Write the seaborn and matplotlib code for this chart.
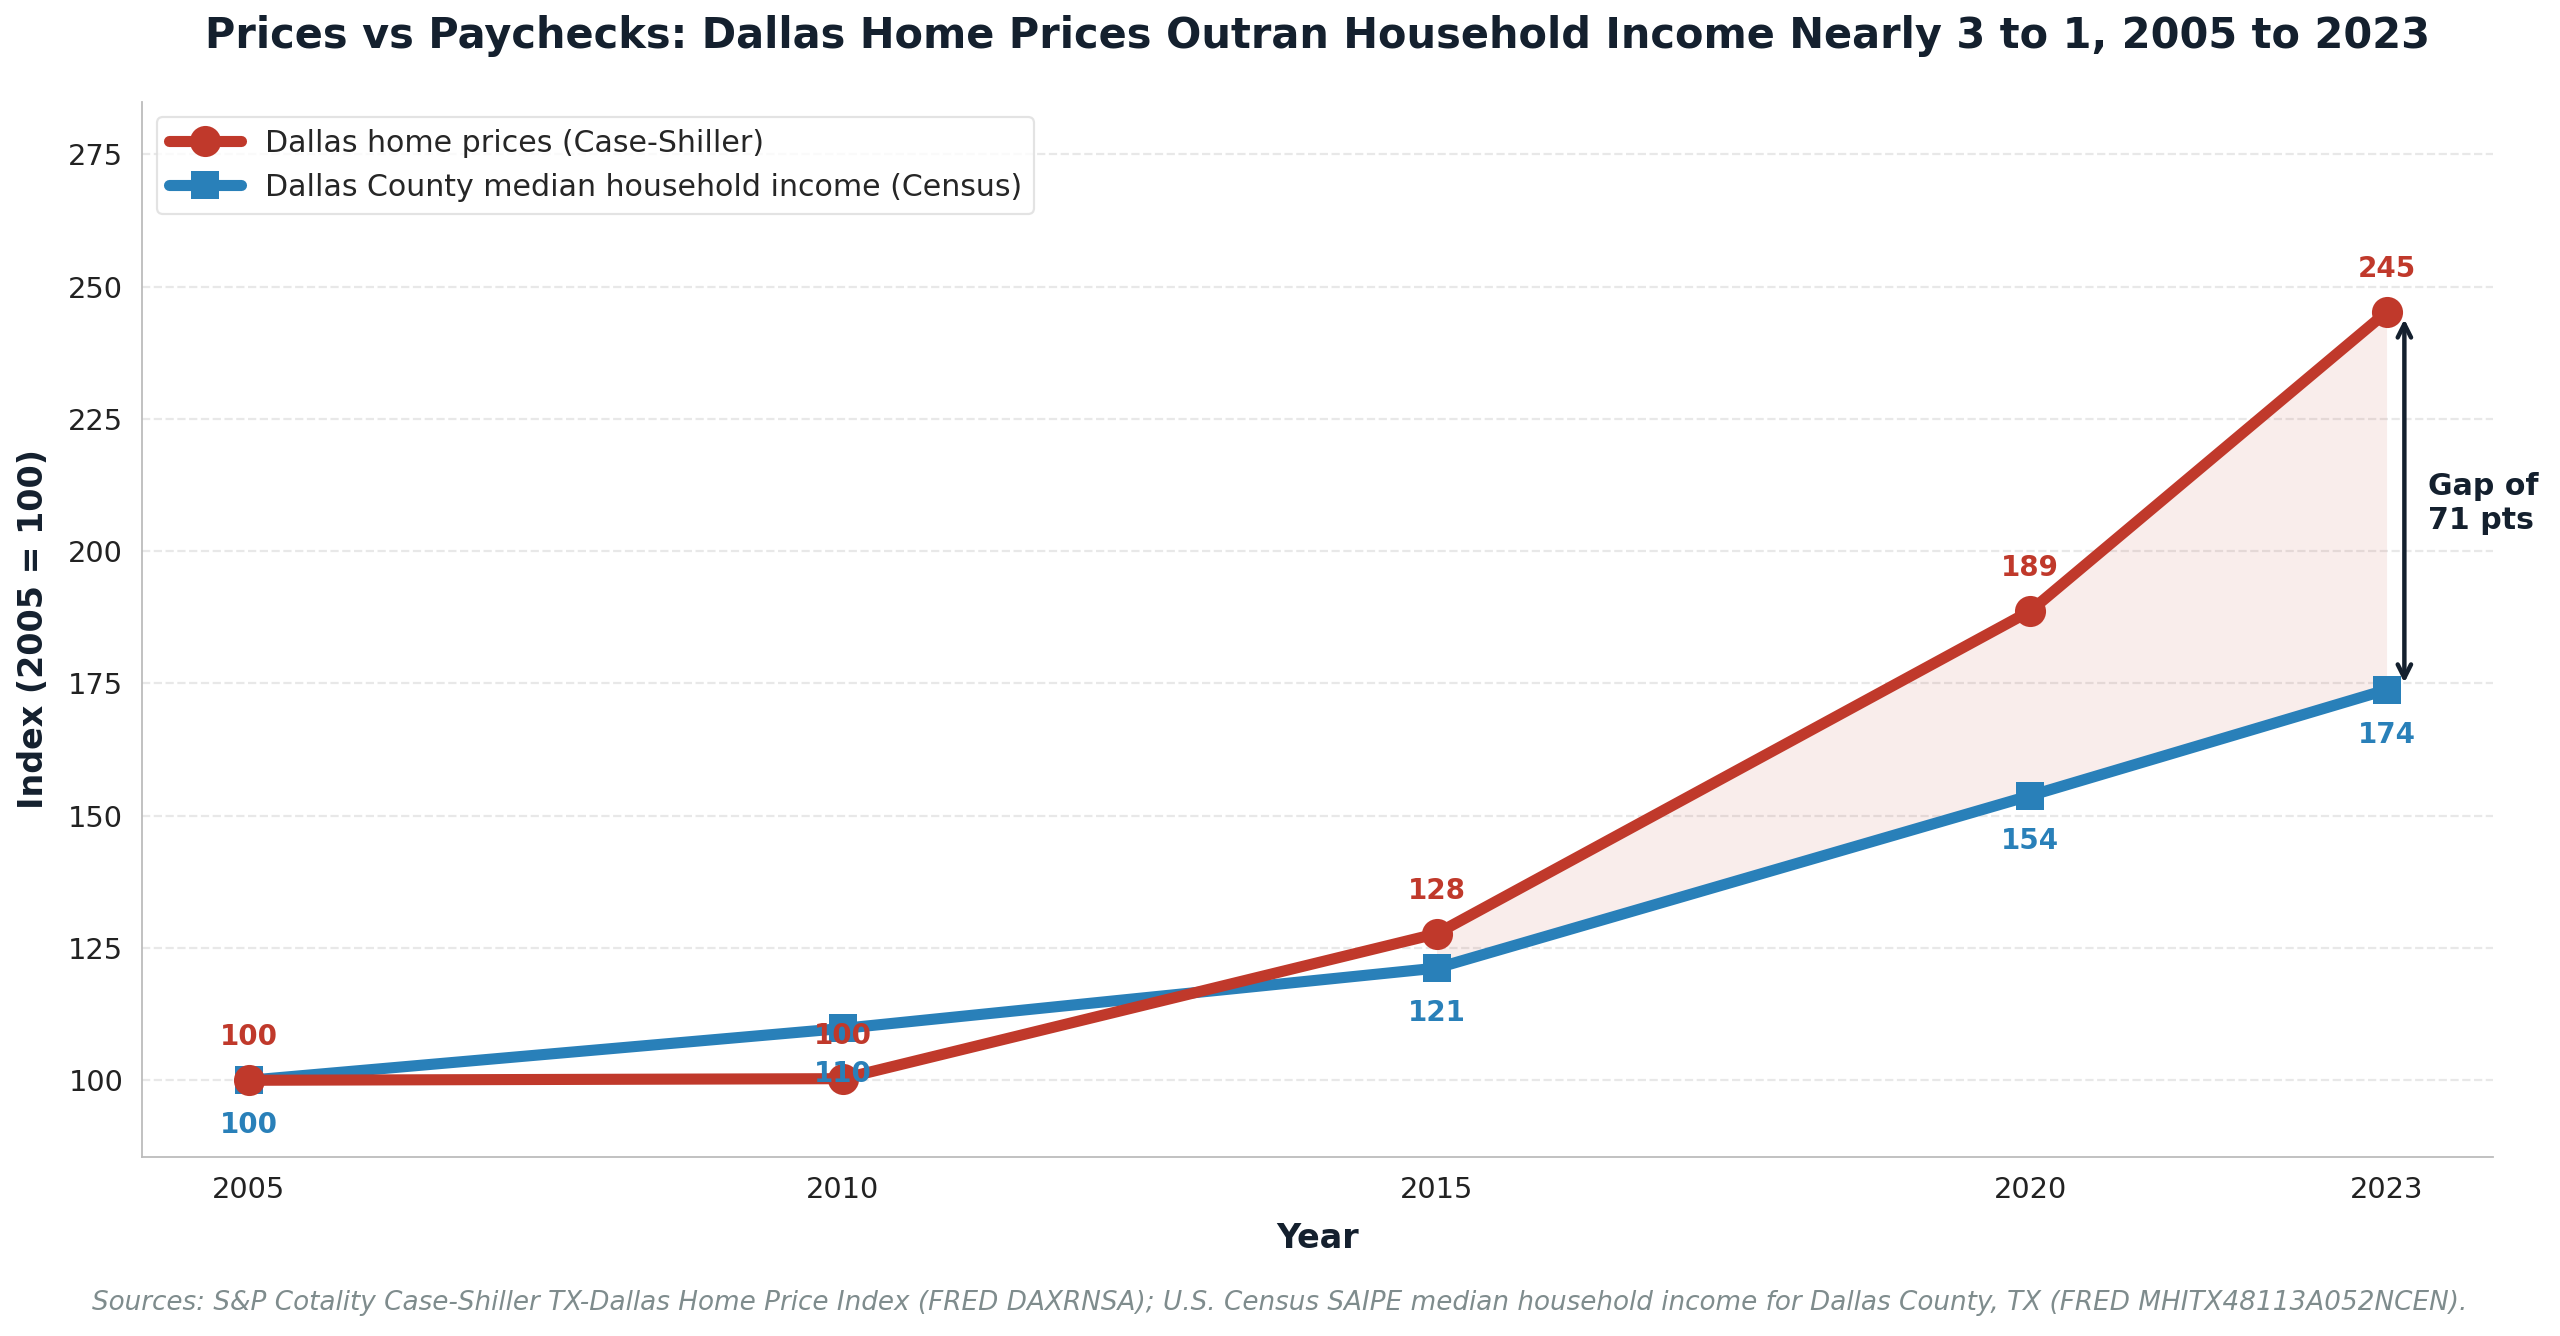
import numpy as np
import pandas as pd
import matplotlib
matplotlib.use('Agg')
import matplotlib.pyplot as plt
import seaborn as sns

years = [2005, 2010, 2015, 2020, 2023]
home_prices = [100.0, 100.3, 127.7, 188.7, 245.2]
household_income = [100.0, 109.8, 121.2, 153.8, 173.8]
price_labels = ['100', '100', '128', '189', '245']
income_labels = ['100', '110', '121', '154', '174']

price_name = 'Dallas home prices (Case-Shiller)'
income_name = 'Dallas County median household income (Census)'

red = '#c0392b'
blue = '#2980b9'
navy = '#14202e'

sns.set_style('white')
plt.rcParams['font.family'] = ['DejaVu Sans']

fig, ax = plt.subplots(figsize=(16, 8.35), dpi=160)

sns.lineplot(x=years, y=home_prices, ax=ax, color=red, lw=5, marker='o',
             markersize=14, markeredgewidth=0, label=price_name, zorder=4)
sns.lineplot(x=years, y=household_income, ax=ax, color=blue, lw=5, marker='s',
             markersize=13, markeredgewidth=0, label=income_name, zorder=3)

hp = np.array(home_prices)
hi = np.array(household_income)
ax.fill_between(years, hp, hi, where=hp > hi + 3, color=red, alpha=0.09, lw=0, zorder=1)

for x, y, t in zip(years, home_prices, price_labels):
    ax.annotate(t, (x, y), xytext=(0, 13), textcoords='offset points', ha='center',
                va='bottom', color=red, fontsize=12.5, fontweight='bold', zorder=6)
for x, y, t in zip(years, household_income, income_labels):
    ax.annotate(t, (x, y), xytext=(0, -14), textcoords='offset points', ha='center',
                va='top', color=blue, fontsize=12.5, fontweight='bold', zorder=6)

# gap arrow at the last year
ax.annotate('', xy=(years[-1] + 0.15, home_prices[-1] - 0.5),
            xytext=(years[-1] + 0.15, household_income[-1] + 0.5),
            arrowprops=dict(arrowstyle='<->', color=navy, lw=2, mutation_scale=15))
gap = home_prices[-1] - household_income[-1]
ax.text(years[-1] + 0.35, (home_prices[-1] + household_income[-1]) / 2 - 0.5,
        f'Gap of\n{gap:.0f} pts', ha='left', va='center', fontsize=13.5,
        fontweight='bold', color=navy)

ax.set_xlim(2004.1, 2023.9)
ax.set_ylim(85.5, 285)
ax.set_xticks(years)
ax.set_yticks(range(100, 276, 25))
ax.tick_params(axis='both', labelsize=13, colors='#222222', length=5, color='#999999')
ax.yaxis.grid(True, linestyle='--', color='#e8e8e8', lw=1)
ax.xaxis.grid(False)
for s in ['top', 'right']:
    ax.spines[s].set_visible(False)
for s in ['left', 'bottom']:
    ax.spines[s].set_color('#bbbbbb')

ax.set_xlabel('Year', fontsize=15, fontweight='bold', color=navy, labelpad=8)
ax.set_ylabel('Index (2005 = 100)', fontsize=15, fontweight='bold', color=navy, labelpad=8)
ax.set_title('Prices vs Paychecks: Dallas Home Prices Outran Household Income Nearly 3 to 1, 2005 to 2023',
             fontsize=18.7, fontweight='bold', color=navy, pad=24)

leg = ax.legend(loc='upper left', fontsize=13.5, frameon=True, borderpad=0.4,
                handlelength=2.4)
leg.get_frame().set_edgecolor('#dddddd')

fig.text(0.5, 0.025, 'Sources: S&P Cotality Case-Shiller TX-Dallas Home Price Index (FRED DAXRNSA); '
         'U.S. Census SAIPE median household income for Dallas County, TX (FRED MHITX48113A052NCEN).',
         ha='center', va='center', fontsize=11.8, style='italic', color='#7f8c8d')

fig.subplots_adjust(left=0.0555, right=0.974, top=0.924, bottom=0.134)
fig.savefig('out.png', dpi=160)
